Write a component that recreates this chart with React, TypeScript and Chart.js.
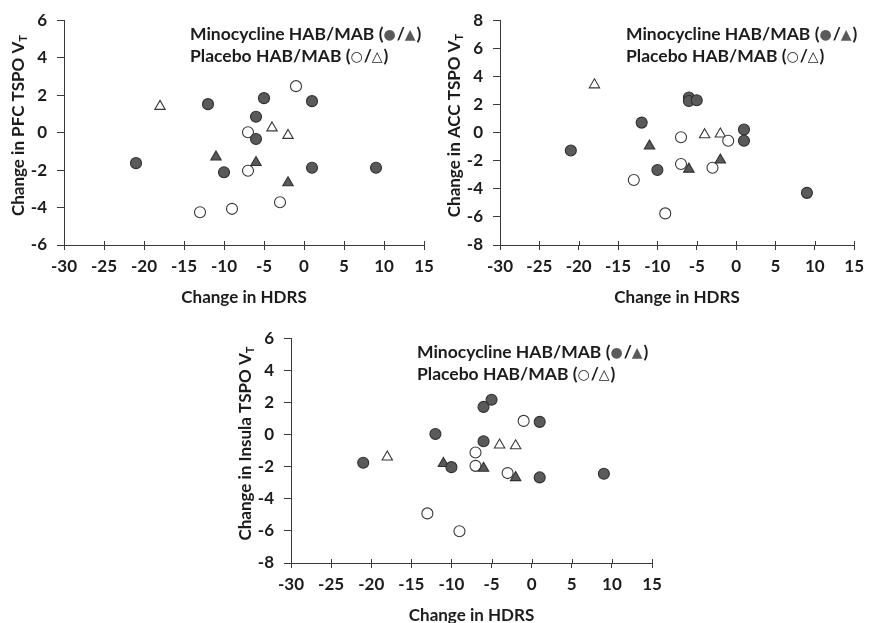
import React, { useEffect, useRef } from "react";
import { Chart, registerables } from "chart.js";

Chart.register(...registerables);

// ---------- data ----------
const hdrsTicks = [-30, -25, -20, -15, -10, -5, 0, 5, 10, 15];
const xAxisTitle = "Change in HDRS";

const pfcTicks = [-6, -4, -2, 0, 2, 4, 6];
const accTicks = [-8, -6, -4, -2, 0, 2, 4, 6, 8];
const insTicks = [-8, -6, -4, -2, 0, 2, 4, 6];

// PFC
const pfcMinoHabX = [-12, -5, 1, -6, -6, -21, -10, 1, 9];
const pfcMinoHabY = [1.52, 1.84, 1.68, 0.85, -0.34, -1.63, -2.12, -1.88, -1.88];
const pfcMinoMabX = [-11, -6, -2];
const pfcMinoMabY = [-1.3, -1.6, -2.68];
const pfcPlacHabX = [-1, -7, -7, -3, -9, -13];
const pfcPlacHabY = [2.48, 0.02, -2.04, -3.72, -4.07, -4.25];
const pfcPlacMabX = [-18, -4, -2];
const pfcPlacMabY = [1.4, 0.25, -0.15];

// ACC
const accMinoHabX = [-21, -12, -6, -6, -5, -10, 1, 1, 9];
const accMinoHabY = [-1.27, 0.71, 2.5, 2.25, 2.3, -2.66, 0.22, -0.58, -4.29];
const accMinoMabX = [-11, -6, -2];
const accMinoMabY = [-0.95, -2.6, -1.95];
const accPlacHabX = [-7, -1, -7, -3, -13, -9];
const accPlacHabY = [-0.33, -0.58, -2.24, -2.5, -3.37, -5.75];
const accPlacMabX = [-18, -4, -2];
const accPlacMabY = [3.4, -0.15, -0.1];

// Insula
const insMinoHabX = [-21, -12, -6, -5, -6, -10, 1, 1, 9];
const insMinoHabY = [-1.76, 0.03, 1.72, 2.17, -0.42, -2.03, 0.79, -2.67, -2.44];
const insMinoMabX = [-11, -6, -2];
const insMinoMabY = [-1.8, -2.1, -2.68];
const insPlacHabX = [-1, -7, -7, -3, -13, -9];
const insPlacHabY = [0.85, -1.12, -1.95, -2.4, -4.91, -6.02];
const insPlacMabX = [-18, -4, -2];
const insPlacMabY = [-1.4, -0.65, -0.7];

const legendMino = ["Minocycline HAB/MAB (", "●", "/", "▲", ")"];
const legendPlac = ["Placebo HAB/MAB (", "○", "/", "△", ")"];

// ---------- styles ----------
const FONT = "Lato, 'Open Sans', 'DejaVu Sans', sans-serif";
const SYMFONT = "'DejaVu Sans', sans-serif";
const TEXT = "#1c1c1c";
const AXIS = "#3a3a3a";
const FILL_DARK = "#5a5a5a";
const EDGE_DARK = "#303030";
const EDGE_OPEN = "#383838";

type Series = { x: number[]; y: number[]; filled: boolean; style: "circle" | "triangle" };

type Spec = {
  left: number;
  top: number;
  width: number;
  height: number;
  padTop: number;
  padRight: number;
  yWidth: number;
  xHeight: number;
  yTicks: number[];
  yTitle: string;
  ySub: string;
  series: Series[];
};

const annotatePlugin = {
  id: "annotate",
  afterDraw(chart: any, _args: any, opts: any) {
    const { ctx, chartArea } = chart;
    const xs = chart.scales.x;
    ctx.save();
    // inner part of x tick marks (crossing ticks)
    ctx.strokeStyle = AXIS;
    ctx.lineWidth = 1;
    xs.ticks.forEach((t: any) => {
      const px = Math.round(xs.getPixelForValue(t.value)) + 0.5;
      ctx.beginPath();
      ctx.moveTo(px, chartArea.bottom);
      ctx.lineTo(px, chartArea.bottom - 4);
      ctx.stroke();
    });

    // y title with subscript
    const cx = chartArea.left - 46;
    const cy = (chartArea.top + chartArea.bottom) / 2 - 7;
    const mainFont = `bold 17px ${FONT}`;
    const subFont = `bold 11px ${FONT}`;
    ctx.font = mainFont;
    const wMain = ctx.measureText(opts.yTitle).width;
    ctx.font = subFont;
    const wSub = ctx.measureText(opts.ySub).width;
    const total = wMain + wSub;
    ctx.translate(cx, cy);
    ctx.rotate(-Math.PI / 2);
    ctx.fillStyle = TEXT;
    ctx.textBaseline = "alphabetic";
    ctx.textAlign = "left";
    ctx.font = mainFont;
    ctx.fillText(opts.yTitle, -total / 2, 6);
    ctx.font = subFont;
    ctx.fillText(opts.ySub, -total / 2 + wMain, 9);
    ctx.setTransform(1, 0, 0, 1, 0, 0);
    ctx.restore();

    // legend text
    ctx.save();
    const lines = [
      { parts: legendMino, filled: true },
      { parts: legendPlac, filled: false },
    ];
    const lx = chartArea.left + 126;
    const lys = [chartArea.top + 14, chartArea.top + 36];
    ctx.textBaseline = "middle";
    ctx.textAlign = "left";
    lines.forEach((ln, li) => {
      let x = lx;
      ln.parts.forEach((p, pi) => {
        const isSym = pi === 1 || pi === 3;
        if (isSym) {
          ctx.font = `14px ${SYMFONT}`;
          ctx.fillStyle = ln.filled ? FILL_DARK : TEXT;
        } else {
          ctx.font = `bold 17.5px ${FONT}`;
          ctx.fillStyle = TEXT;
        }
        ctx.fillText(p, x, lys[li] + (isSym ? 1 : 0));
        x += ctx.measureText(p).width + (isSym ? 1 : 0);
      });
    });
    ctx.restore();
  },
};

function buildDatasets(series: Series[]) {
  return series.map((s) => ({
    data: s.x.map((x, i) => ({ x, y: s.y[i] })),
    pointStyle: s.style,
    pointRadius: s.style === "triangle" ? 6 : 5.5,
    pointHoverRadius: s.style === "triangle" ? 6 : 5.5,
    backgroundColor: s.filled ? FILL_DARK : "#ffffff",
    borderColor: s.filled ? EDGE_DARK : EDGE_OPEN,
    borderWidth: 1.1,
    showLine: false,
  }));
}

function ScatterPanel({ spec }: { spec: Spec }) {
  const ref = useRef<HTMLCanvasElement>(null);
  useEffect(() => {
    const yMin = spec.yTicks[0];
    const yMax = spec.yTicks[spec.yTicks.length - 1];
    const chart = new Chart(ref.current as HTMLCanvasElement, {
      type: "scatter",
      data: { datasets: buildDatasets(spec.series) as any },
      options: {
        animation: false,
        responsive: false,
        maintainAspectRatio: false,
        events: [],
        layout: { padding: { top: spec.padTop, right: spec.padRight, left: 0, bottom: 0 } },
        plugins: {
          legend: { display: false },
          tooltip: { enabled: false },
          annotate: { yTitle: spec.yTitle, ySub: spec.ySub },
        } as any,
        scales: {
          x: {
            type: "linear",
            min: hdrsTicks[0],
            max: hdrsTicks[hdrsTicks.length - 1],
            afterBuildTicks: (s: any) => {
              s.ticks = hdrsTicks.map((v) => ({ value: v }));
            },
            afterFit: (s: any) => {
              s.height = spec.xHeight;
            },
            grid: { drawOnChartArea: false, drawTicks: true, tickLength: 5, color: AXIS, lineWidth: 1 },
            border: { display: true, color: AXIS, width: 1 },
            ticks: { color: TEXT, font: { family: FONT, size: 17, weight: "bold" }, padding: 6, maxRotation: 0 },
            title: {
              display: true,
              text: xAxisTitle,
              color: TEXT,
              font: { family: FONT, size: 17, weight: "bold" },
              padding: { top: 0, bottom: 4 },
            },
          },
          y: {
            type: "linear",
            min: yMin,
            max: yMax,
            afterBuildTicks: (s: any) => {
              s.ticks = spec.yTicks.map((v) => ({ value: v }));
            },
            afterFit: (s: any) => {
              s.width = spec.yWidth;
            },
            grid: { drawOnChartArea: false, drawTicks: true, tickLength: 7, color: AXIS, lineWidth: 1 },
            border: { display: true, color: AXIS, width: 1 },
            ticks: { color: TEXT, font: { family: FONT, size: 17, weight: "bold" }, padding: 10 },
          },
        },
      },
      plugins: [annotatePlugin],
    });
    return () => chart.destroy();
  }, [spec]);
  return (
    <canvas
      ref={ref}
      width={spec.width}
      height={spec.height}
      style={{ position: "absolute", left: spec.left, top: spec.top, width: spec.width, height: spec.height }}
    />
  );
}

const pfcSpec: Spec = {
  left: 0, top: 0, width: 445, height: 312, padTop: 19, padRight: 21, yWidth: 64, xHeight: 67,
  yTicks: pfcTicks, yTitle: "Change in PFC TSPO V", ySub: "T",
  series: [
    { x: pfcMinoHabX, y: pfcMinoHabY, filled: true, style: "circle" },
    { x: pfcMinoMabX, y: pfcMinoMabY, filled: true, style: "triangle" },
    { x: pfcPlacHabX, y: pfcPlacHabY, filled: false, style: "circle" },
    { x: pfcPlacMabX, y: pfcPlacMabY, filled: false, style: "triangle" },
  ],
};

const accSpec: Spec = {
  left: 435, top: 0, width: 435, height: 312, padTop: 19, padRight: 10, yWidth: 65, xHeight: 67,
  yTicks: accTicks, yTitle: "Change in ACC TSPO V", ySub: "T",
  series: [
    { x: accMinoHabX, y: accMinoHabY, filled: true, style: "circle" },
    { x: accMinoMabX, y: accMinoMabY, filled: true, style: "triangle" },
    { x: accPlacHabX, y: accPlacHabY, filled: false, style: "circle" },
    { x: accPlacMabX, y: accPlacMabY, filled: false, style: "triangle" },
  ],
};

const insSpec: Spec = {
  left: 225, top: 318, width: 447, height: 312, padTop: 19, padRight: 20, yWidth: 66, xHeight: 67,
  yTicks: insTicks, yTitle: "Change in Insula TSPO V", ySub: "T",
  series: [
    { x: insMinoHabX, y: insMinoHabY, filled: true, style: "circle" },
    { x: insMinoMabX, y: insMinoMabY, filled: true, style: "triangle" },
    { x: insPlacHabX, y: insPlacHabY, filled: false, style: "circle" },
    { x: insPlacMabX, y: insPlacMabY, filled: false, style: "triangle" },
  ],
};

export default function App() {
  return (
    <div
      style={{
        position: "absolute",
        left: 0,
        top: 0,
        width: 870,
        height: 623,
        overflow: "hidden",
        background: "#ffffff",
      }}
    >
      <ScatterPanel spec={pfcSpec} />
      <ScatterPanel spec={accSpec} />
      <ScatterPanel spec={insSpec} />
    </div>
  );
}
